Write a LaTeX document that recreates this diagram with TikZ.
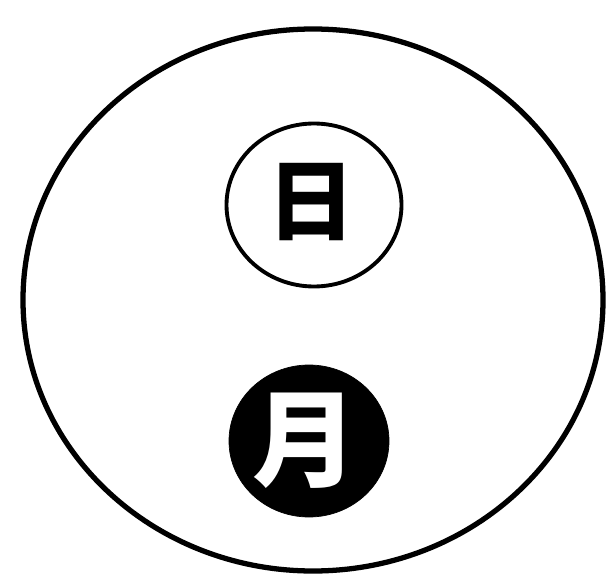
\documentclass[tikz,border=0pt]{standalone}
\usepackage{fontspec}
\newfontfamily\cjk{Noto Sans CJK SC}
\usetikzlibrary{shapes.geometric}

\begin{document}
\begin{tikzpicture}[
    ring/.style={ellipse, draw, inner sep=0pt},
    glyph/.style={inner sep=0pt, font=\cjk\bfseries}
  ]
    \useasboundingbox (0, 0) rectangle (12.18, 11.48);
    % 外圈
    \node[ring, line width=3pt, minimum width=11.6cm, minimum height=10.84cm] (sky) at (6.26, 5.48) {};
    % 日
    \node[ring, line width=2.2pt, minimum width=3.5cm, minimum height=3.26cm] (sun) at (6.28, 7.38) {};
    \node[glyph, font=\cjk\bfseries\fontsize{50}{50}\selectfont] (suntext) at (6.22, 7.44) {日};
    % 月
    \node[ring, fill=black, minimum width=3.2cm, minimum height=3.04cm] (moon) at (6.18, 2.66) {};
    \node[glyph, text=white, font=\cjk\bfseries\fontsize{60}{60}\selectfont] (moontext) at (6.1, 2.66) {月};
\end{tikzpicture}
\end{document}
